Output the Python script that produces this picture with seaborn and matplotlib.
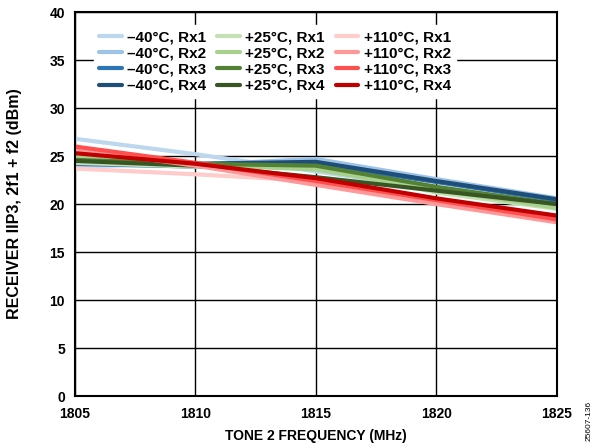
import numpy as np
import pandas as pd
import matplotlib
matplotlib.use("Agg")
import matplotlib.pyplot as plt
import seaborn as sns

# Data
freq = [1805, 1810, 1815, 1820, 1825]

m40_rx1 = [26.8, 25.2, 23.4, 21.6, 20.2]
m40_rx2 = [24.0, 24.1, 24.7, 22.6, 20.6]
m40_rx3 = [24.2, 23.9, 24.2, 22.3, 20.4]
m40_rx4 = [24.8, 24.2, 24.4, 22.4, 20.5]

p25_rx1 = [24.3, 23.9, 23.9, 21.2, 19.5]
p25_rx2 = [25.0, 24.1, 23.6, 21.5, 19.6]
p25_rx3 = [24.6, 24.2, 24.0, 21.8, 20.0]
p25_rx4 = [24.5, 24.0, 22.8, 21.4, 20.0]

p110_rx1 = [23.7, 23.1, 22.4, 20.4, 18.6]
p110_rx2 = [25.7, 24.0, 22.0, 20.0, 18.1]
p110_rx3 = [26.0, 24.3, 22.4, 20.4, 18.4]
p110_rx4 = [25.3, 24.2, 22.7, 20.6, 18.8]

labels = ["\u201340\u00b0C, Rx1", "\u201340\u00b0C, Rx2", "\u201340\u00b0C, Rx3", "\u201340\u00b0C, Rx4",
          "+25\u00b0C, Rx1", "+25\u00b0C, Rx2", "+25\u00b0C, Rx3", "+25\u00b0C, Rx4",
          "+110\u00b0C, Rx1", "+110\u00b0C, Rx2", "+110\u00b0C, Rx3", "+110\u00b0C, Rx4"]
series = [m40_rx1, m40_rx2, m40_rx3, m40_rx4,
          p25_rx1, p25_rx2, p25_rx3, p25_rx4,
          p110_rx1, p110_rx2, p110_rx3, p110_rx4]
colors = ["#bdd7ee", "#9dc3e6", "#2e75b6", "#1f4e79",
          "#c5e0b4", "#a9d18e", "#548235", "#375623",
          "#ffcccc", "#ff9999", "#ff5050", "#c00000"]

rows = []
for lab, vals in zip(labels, series):
    for f, v in zip(freq, vals):
        rows.append({"freq": f, "iip3": v, "series": lab})
df = pd.DataFrame(rows)

sns.set_style("white")
plt.rcParams['font.family'] = ['Liberation Sans', 'DejaVu Sans']
plt.rcParams['font.weight'] = 'bold'
for k in ['text.color', 'axes.labelcolor', 'xtick.color', 'ytick.color']:
    plt.rcParams[k] = 'black'

fig = plt.figure(figsize=(5.98, 4.48), dpi=100)
ax = fig.add_axes([0.125, 0.116, 0.806, 0.857])

sns.lineplot(data=df, x="freq", y="iip3", hue="series", hue_order=labels,
             palette=dict(zip(labels, colors)), linewidth=3, ax=ax, legend=False)

ax.set_xlim(1805, 1825)
ax.set_ylim(0, 40)
ax.set_xticks(freq)
ax.set_yticks(np.arange(0, 41, 5))
ax.grid(True, color="black", linewidth=1)
ax.set_axisbelow(True)
for s in ax.spines.values():
    s.set_color("black")
    s.set_linewidth(1.5)
ax.tick_params(axis="x", labelsize=10, length=0, pad=8, labelcolor="black")
ax.tick_params(axis="y", labelsize=10, length=0, pad=7, labelcolor="black")
for t in ax.get_xticklabels() + ax.get_yticklabels():
    t.set_fontweight("bold")

ax.set_xlabel("TONE 2 FREQUENCY (MHz)", fontsize=10, fontweight="bold", labelpad=6)
ax.set_ylabel("RECEIVER IIP3, 2f1 + f2 (dBm)", fontsize=11.5, fontweight="bold")
ax.yaxis.set_label_coords(-0.11, 0.5)

handles = [plt.Line2D([0], [0], color=c, lw=3) for c in colors]
leg = ax.legend(handles, labels, ncol=3, loc="upper left", bbox_to_anchor=(0.025, 0.985),
                frameon=True, facecolor="white", edgecolor="white", framealpha=1,
                fontsize=11, handlelength=1.5, handletextpad=0.35, columnspacing=0.7,
                labelspacing=0.15, borderpad=0.3)
for t in leg.get_texts():
    t.set_fontweight("bold")
    t.set_color("black")

fig.text(0.985, 0.06, "25607-136", rotation=90, fontsize=6, fontweight="normal",
         ha="center", va="center")

fig.savefig("out.png", dpi=100)
